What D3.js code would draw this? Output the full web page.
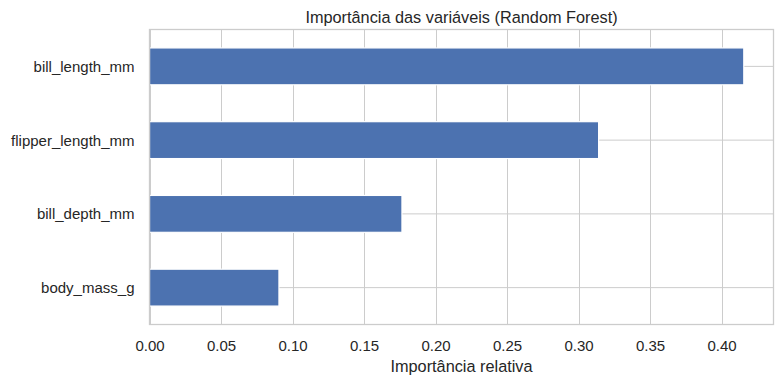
<!DOCTYPE html>
<html>
<head>
<meta charset="utf-8">
<script src="https://cdn.jsdelivr.net/npm/d3@7"></script>
<style>
  body { margin: 0; background: #fff; }
  text { font-family: "Liberation Sans", Arial, sans-serif; fill: #262626; }
</style>
</head>
<body>
<svg id="chart"></svg>
<script>
const features = ["bill_length_mm", "flipper_length_mm", "bill_depth_mm", "body_mass_g"];
const importance = [0.4155, 0.314, 0.1765, 0.0905];
const xTicks = [0, 0.05, 0.10, 0.15, 0.20, 0.25, 0.30, 0.35, 0.40];

const width = 784;
const height = 383;
const margin = { top: 29.5, right: 10.5, bottom: 58.5, left: 149.5 };

const svg = d3.select('#chart')
    .attr('width', width)
    .attr('height', height);

const x = d3.scaleLinear()
  .domain([0, d3.max(importance) * 1.05])
  .range([margin.left, width - margin.right]);

const y = d3.scaleBand()
  .domain(features)
  .range([margin.top, height - margin.bottom])
  .paddingInner(0.5)
  .paddingOuter(0.25);

// grid
svg.append('g')
  .selectAll('line.vgrid')
  .data(xTicks)
  .enter().append('line')
    .attr('x1', d => Math.round(x(d)) + 0.5)
    .attr('x2', d => Math.round(x(d)) + 0.5)
    .attr('y1', margin.top)
    .attr('y2', height - margin.bottom)
    .attr('stroke', '#cccccc')
    .attr('stroke-width', 1);

svg.append('g')
  .selectAll('line.hgrid')
  .data(features)
  .enter().append('line')
    .attr('x1', margin.left)
    .attr('x2', width - margin.right)
    .attr('y1', d => y(d) + y.bandwidth() / 2)
    .attr('y2', d => y(d) + y.bandwidth() / 2)
    .attr('stroke', '#cccccc')
    .attr('stroke-width', 1);

// bars
svg.append('g')
  .selectAll('rect')
  .data(features)
  .enter().append('rect')
    .attr('x', x(0))
    .attr('y', d => y(d))
    .attr('width', (d, i) => x(importance[i]) - x(0))
    .attr('height', y.bandwidth())
    .attr('fill', '#4c72b0')
    .attr('stroke', '#ffffff')
    .attr('stroke-width', 1.2);

// spines
svg.append('rect')
  .attr('x', margin.left)
  .attr('y', margin.top)
  .attr('width', width - margin.right - margin.left)
  .attr('height', height - margin.bottom - margin.top)
  .attr('fill', 'none')
  .attr('stroke', '#cccccc')
  .attr('stroke-width', 1.3);

// x axis labels
const xAxis = svg.append('g')
  .attr('transform', 'translate(0,' + (height - margin.bottom) + ')')
  .call(d3.axisBottom(x).tickValues(xTicks).tickFormat(d3.format('.2f')).tickSize(0).tickPadding(0));
xAxis.select('.domain').remove();
xAxis.selectAll('text')
  .attr('dy', null)
  .attr('y', 26.5)
  .attr('fill', '#262626')
  .style('font-size', '15px')
  .style('font-family', '"Liberation Sans", Arial, sans-serif');

// y axis labels
const yAxis = svg.append('g')
  .attr('transform', 'translate(' + margin.left + ',0)')
  .call(d3.axisLeft(y).tickSize(0).tickPadding(15));
yAxis.select('.domain').remove();
yAxis.selectAll('text')
  .attr('dy', '0.36em')
  .attr('fill', '#262626')
  .style('font-size', '15px')
  .style('font-family', '"Liberation Sans", Arial, sans-serif');

// title and axis label
svg.append('text')
  .attr('x', (margin.left + width - margin.right) / 2)
  .attr('y', 22.5)
  .attr('text-anchor', 'middle')
  .style('font-size', '16.3px')
  .text('Importância das variáveis (Random Forest)');

svg.append('text')
  .attr('x', (margin.left + width - margin.right) / 2)
  .attr('y', 372)
  .attr('text-anchor', 'middle')
  .style('font-size', '16.3px')
  .text('Importância relativa');
</script>
</body>
</html>
